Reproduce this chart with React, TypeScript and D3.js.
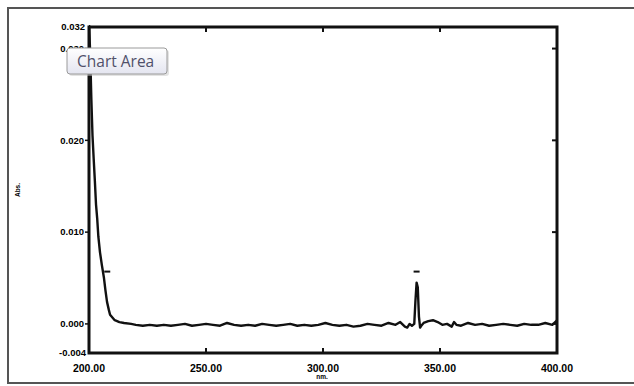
import React from "react";
import * as d3 from "d3";

// wavelength (nm) and absorbance
const wavelengths = [
  200, 200.5, 201, 201.5, 202, 202.5, 203, 203.5, 204, 204.7, 205.5, 206.4, 207, 207.7, 208.5, 209, 210,
  211, 213, 215, 218, 220, 223, 226, 229, 232, 235, 238, 241, 244, 247, 250, 253, 256, 259, 262, 265, 268,
  271, 274, 277, 280, 283, 286, 289, 292, 295, 298, 301, 304, 307, 310, 313, 316, 319, 322, 325, 328, 331,
  333, 335, 336, 337, 338, 339, 339.5, 340, 340.5, 341, 341.5, 342, 343, 345, 347, 349, 351, 353, 355,
  356, 357, 359, 362, 365, 368, 371, 374, 377, 380, 383, 386, 389, 392, 395, 398, 400,
];
const absorbance = [
  0.0328, 0.0295, 0.0245, 0.0205, 0.018, 0.0156, 0.013, 0.0115, 0.0095, 0.0078, 0.0064, 0.005, 0.0037,
  0.0024, 0.0015, 0.001, 0.0007, 0.0004, 0.0002, 0.0001, 0.0, -0.0001, -0.0002, -0.0001, -0.0002, -0.0001,
  -0.0002, -0.0001, 0.0, -0.0002, -0.0001, 0.0, -0.0001, -0.0002, 0.0001, -0.0001, -0.0002, -0.0001,
  -0.0002, 0.0, -0.0001, -0.0002, -0.0001, 0.0, -0.0002, -0.0001, -0.0002, -0.0001, 0.0001, -0.0001,
  -0.0002, -0.0001, -0.0003, -0.0002, 0.0, -0.0001, -0.0002, 0.0001, -0.0001, 0.0002, -0.0003, -0.0004,
  0.0, -0.0002, 0.0, 0.0025, 0.0045, 0.004, 0.0008, -0.0004, -0.0002, 0.0001, 0.0003, 0.0004, 0.0002,
  -0.0001, 0.0, -0.0003, 0.0002, -0.0001, -0.0002, 0.0001, -0.0001, 0.0, -0.0002, -0.0001, 0.0,
  -0.0001, -0.0002, 0.0, -0.0001, -0.0001, 0.0001, -0.0001, 0.0004,
];

// small peak pick marks drawn by the instrument software
const markNm = [207.8, 340];
const markAbs = [0.0057, 0.0057];

const yTicks = [0.0, 0.01, 0.02, 0.03];
const yEndLabels = ["-0.004", "0.032"];
const xTicks = [200, 250, 300, 350, 400];

const W = 634;
const H = 386;
const margin = { top: 27, right: 77, bottom: 33, left: 89 };

export default function App() {
  const x = d3.scaleLinear().domain([200, 400]).range([margin.left, W - margin.right]);
  const y = d3.scaleLinear().domain([-0.00317, 0.03235]).range([H - margin.bottom, margin.top]);

  const line = d3
    .line<number>()
    .x((_, i) => x(wavelengths[i]))
    .y((d) => y(d));

  const x0 = x.range()[0];
  const x1 = x.range()[1];
  const y0 = y.range()[0];
  const y1 = y.range()[1];
  const tickFont = { fontFamily: "Liberation Sans, Arial, sans-serif", fontSize: 9.5, fontWeight: 700 };

  return (
    <svg
      width={W}
      height={H}
      style={{ position: "absolute", left: 0, top: 0, background: "#fff" }}
    >
      <defs>
        <linearGradient id="tip" x1="0" y1="0" x2="0" y2="1">
          <stop offset="0" stopColor="#ffffff" />
          <stop offset="1" stopColor="#e4e5f0" />
        </linearGradient>
        <clipPath id="plot">
          <rect x={x0} y={y1 - 2} width={x1 - x0} height={y0 - y1 + 2} />
        </clipPath>
      </defs>
      <rect x={8} y={8} width={W} height={375} fill="#fff" stroke="#555" strokeWidth={2} />

      {/* trace */}
      <path
        d={line(absorbance) ?? ""}
        fill="none"
        stroke="#111"
        strokeWidth={2.4}
        strokeLinejoin="round"
        clipPath="url(#plot)"
      />
      {markNm.map((m, i) => (
        <line
          key={i}
          x1={x(m) - 3}
          x2={x(m) + 3}
          y1={y(markAbs[i])}
          y2={y(markAbs[i])}
          stroke="#111"
          strokeWidth={2}
        />
      ))}

      {/* frame */}
      <rect x={x0} y={y1} width={x1 - x0} height={y0 - y1} fill="none" stroke="#111" strokeWidth={3} />

      {/* y ticks */}
      {yTicks.map((t) => (
        <g key={t}>
          <line x1={x0 - 4} x2={x0} y1={y(t)} y2={y(t)} stroke="#111" strokeWidth={1.5} />
          <line x1={x1 - 5} x2={x1} y1={y(t)} y2={y(t)} stroke="#111" strokeWidth={2} />
          <text x={x0 - 5} y={y(t)} dy="0.35em" textAnchor="end" {...tickFont}>
            {t.toFixed(3)}
          </text>
        </g>
      ))}
      <text x={x0 - 3} y={y0} dy="0.35em" textAnchor="end" {...tickFont}>
        {yEndLabels[0]}
      </text>
      <text x={x0 - 4} y={y1} dy="0.35em" textAnchor="end" {...tickFont}>
        {yEndLabels[1]}
      </text>

      {/* x ticks */}
      {xTicks.map((t) => (
        <g key={t}>
          <line x1={x(t)} x2={x(t)} y1={y0} y2={y0 - 5} stroke="#111" strokeWidth={2} />
          <line x1={x(t)} x2={x(t)} y1={y1} y2={y1 + 5} stroke="#111" strokeWidth={2} />
          <text x={x(t)} y={y0 + 19} textAnchor="middle" {...tickFont} fontSize={10.5}>
            {t.toFixed(2)}
          </text>
        </g>
      ))}

      {/* axis titles */}
      <text x={(x0 + x1) / 2 - 1} y={y0 + 26} textAnchor="middle" {...tickFont} fontSize={6.5}>
        nm.
      </text>
      <text
        transform={`translate(20,${(y0 + y1) / 2}) rotate(-90)`}
        textAnchor="middle"
        {...tickFont}
        fontSize={6.5}
      >
        Abs.
      </text>

      {/* hover tooltip */}
      <rect x={69} y={50} width={100} height={26} rx={3} fill="#c8c8c8" opacity={0.5} />
      <rect x={67} y={48} width={100} height={26} rx={3} fill="url(#tip)" stroke="#9a9a9a" />
      <text
        x={77}
        y={67}
        fontFamily="Open Sans, DejaVu Sans, sans-serif"
        fontSize={15.5}
        fill="#50506a"
      >
        Chart Area
      </text>
    </svg>
  );
}
